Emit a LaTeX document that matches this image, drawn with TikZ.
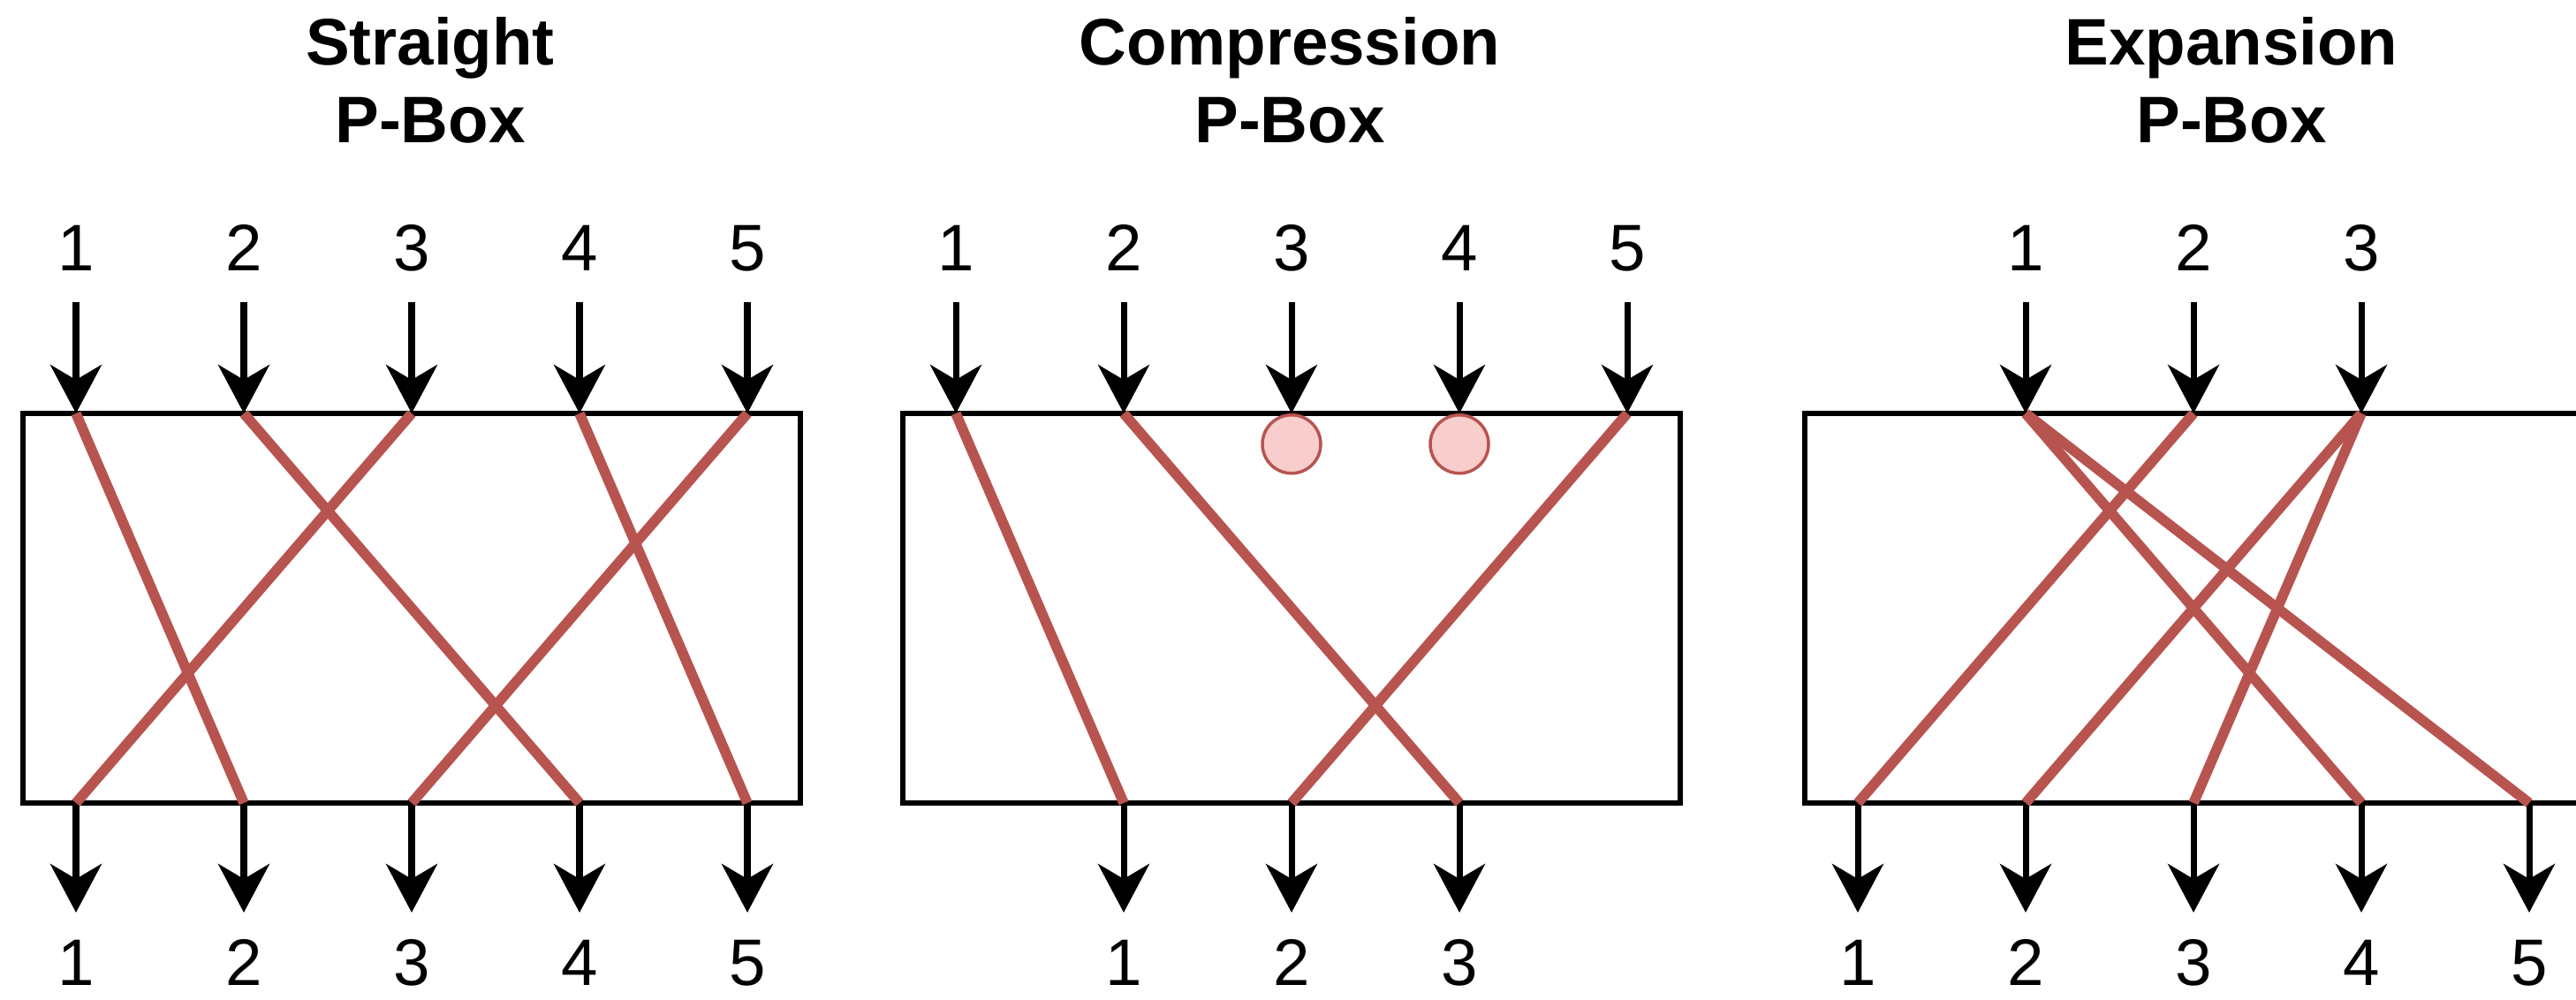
\documentclass[tikz,border=0pt]{standalone}
\usepackage{fontspec}
\setmainfont{Liberation Sans}
\usepackage{tikz}
\usetikzlibrary{arrows.meta,positioning,calc}
\definecolor{wirered}{RGB}{184,84,80}
\definecolor{blockfill}{RGB}{248,206,204}

\begin{document}
\begin{tikzpicture}[
  pbox/.style={draw, line width=1.6pt, minimum width=8.8cm, minimum height=4.41cm, inner sep=0pt, outer sep=0pt},
  num/.style={anchor=base, inner sep=0pt, font=\fontsize{21.2}{25.3}\selectfont},
  title/.style={anchor=base, align=center, font=\fontsize{21.2}{25.3}\selectfont\bfseries},
  port/.style={line width=2pt, -{Stealth[length=0.55cm, width=0.58cm, inset=0.17cm]}},
  wire/.style={draw=wirered, line width=3.3pt},
  blocked/.style={circle, draw=wirered, fill=blockfill, line width=1pt, minimum size=0.66cm, inner sep=0pt}
]
\useasboundingbox (0,0) rectangle (29.16,11.31);
\clip (0,0) rectangle (29.16,11.31);

% straight p-box
\node[title] (s-title) at (4.87,9.69) {Straight\\P-Box};
\node[pbox] (sbox) at (4.66,4.425) {};
\foreach \i in {1,...,5}{
  \coordinate (s-t\i) at ($(sbox.north)+({1.9*(\i-3)},0)$);
  \coordinate (s-b\i) at ($(sbox.south)+({1.9*(\i-3)},0)$);
  \coordinate (s-a\i) at ($(s-t\i)+(0,1.26)$);
  \coordinate (s-z\i) at ($(s-b\i)+(0,-1.24)$);
  \node[num] (s-in\i) at ($(s-t\i)+(0,1.61)$) {\i};
  \node[num] (s-out\i) at ($(s-b\i)+(0,-2.06)$) {\i};
  \draw[port] (s-a\i) -- (s-t\i);
  \draw[port] (s-b\i) -- (s-z\i);
}
\draw[wire] (s-t1) -- (s-b2);
\draw[wire] (s-t2) -- (s-b4);
\draw[wire] (s-t3) -- (s-b1);
\draw[wire] (s-t4) -- (s-b5);
\draw[wire] (s-t5) -- (s-b3);

% compression p-box
\node[title] (c-title) at (14.60,9.69) {Compression\\P-Box};
\node[pbox] (cbox) at (14.62,4.425) {};
\foreach \i in {1,...,5}{
  \coordinate (c-t\i) at ($(cbox.north)+({1.9*(\i-3)},0)$);
  \coordinate (c-a\i) at ($(c-t\i)+(0,1.26)$);
  \node[num] (c-in\i) at ($(c-t\i)+(0,1.61)$) {\i};
  \draw[port] (c-a\i) -- (c-t\i);
}
\foreach \i in {1,2,3}{
  \coordinate (c-b\i) at ($(cbox.south)+({1.9*(\i-2)},0)$);
  \coordinate (c-z\i) at ($(c-b\i)+(0,-1.24)$);
  \node[num] (c-out\i) at ($(c-b\i)+(0,-2.06)$) {\i};
  \draw[port] (c-b\i) -- (c-z\i);
}
\node[blocked, below=0pt of c-t3] (c-x3) {};
\node[blocked, below=0pt of c-t4] (c-x4) {};
\draw[wire] (c-t1) -- (c-b1);
\draw[wire] (c-t2) -- (c-b3);
\draw[wire] (c-t5) -- (c-b2);

% expansion p-box
\node[title] (e-title) at (25.26,9.69) {Expansion\\P-Box};
\node[pbox] (ebox) at (24.83,4.425) {};
\foreach \i in {1,2,3}{
  \coordinate (e-t\i) at ($(ebox.north)+({1.9*(\i-2)},0)$);
  \coordinate (e-a\i) at ($(e-t\i)+(0,1.26)$);
  \node[num] (e-in\i) at ($(e-t\i)+(0,1.61)$) {\i};
  \draw[port] (e-a\i) -- (e-t\i);
}
\foreach \i in {1,...,5}{
  \coordinate (e-b\i) at ($(ebox.south)+({1.9*(\i-3)},0)$);
  \coordinate (e-z\i) at ($(e-b\i)+(0,-1.24)$);
  \node[num] (e-out\i) at ($(e-b\i)+(0,-2.06)$) {\i};
  \draw[port] (e-b\i) -- (e-z\i);
}
\draw[wire] (e-t1) -- (e-b4);
\draw[wire] (e-t1) -- (e-b5);
\draw[wire] (e-t2) -- (e-b1);
\draw[wire] (e-t3) -- (e-b2);
\draw[wire] (e-t3) -- (e-b3);
\end{tikzpicture}
\end{document}
